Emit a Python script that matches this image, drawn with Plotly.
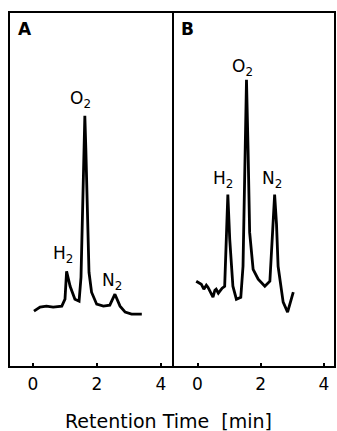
import plotly.graph_objects as go

# Panel A chromatogram (retention time in min, detector signal in arbitrary units)
time_a = [0.03, 0.22, 0.42, 0.63, 0.9, 1.0, 1.05, 1.1, 1.16, 1.31, 1.44, 1.5, 1.55, 1.6, 1.62,
          1.65, 1.7, 1.75, 1.83, 1.99, 2.2, 2.4, 2.56, 2.64, 2.72, 2.88, 3.08, 3.4]
signal_a = [56, 60, 61, 60, 61, 68, 96, 88, 81, 68, 66, 90, 150, 230, 252,
            220, 140, 95, 75, 63, 61, 62, 73, 66, 61, 55, 53, 53]

# Panel B chromatogram
time_b = [-0.04, 0.05, 0.12, 0.2, 0.28, 0.33, 0.42, 0.49, 0.55, 0.59, 0.66, 0.70, 0.78, 0.86,
          0.92, 0.96, 1.02, 1.12, 1.23, 1.37, 1.44, 1.50, 1.55, 1.60, 1.65, 1.76, 1.92, 2.13,
          2.29, 2.38, 2.44, 2.50, 2.55, 2.71, 2.85, 3.03]
signal_b = [86, 84, 83, 78, 82, 80, 74, 70, 77, 78, 74, 76, 79, 81,
            128, 173, 128, 81, 68, 70, 101, 198, 288, 218, 135, 98, 88, 81,
            86, 138, 173, 143, 101, 65, 55, 75]

tick_vals = [0, 2, 4]
tick_text = ["0", "2", "4"]
panel_labels = ["A", "B"]
peak_labels = ["H<sub>2</sub>", "O<sub>2</sub>", "N<sub>2</sub>"]
peak_time_a = [0.95, 1.47, 2.47]
peak_sig_a = [113, 268, 86]
peak_time_b = [0.8, 1.43, 2.35]
peak_sig_b = [188, 300, 188]

FONT = "DejaVu Sans"

fig = go.Figure()
fig.add_trace(go.Scatter(x=time_a, y=signal_a, mode="lines", xaxis="x", yaxis="y",
                         line=dict(color="black", width=2.8), showlegend=False))
fig.add_trace(go.Scatter(x=time_b, y=signal_b, mode="lines", xaxis="x2", yaxis="y2",
                         line=dict(color="black", width=2.8), showlegend=False))

ax_common = dict(showline=False, showgrid=False, zeroline=False, ticks="inside", ticklen=4,
                 tickwidth=2, tickcolor="black", tickvals=tick_vals, ticktext=tick_text,
                 ticklabelstandoff=5,
                 tickfont=dict(family=FONT, size=17, color="black"))
y_common = dict(showline=False, showgrid=False, zeroline=False, showticklabels=False, ticks="",
                range=[0, 356])

split = (173 - 9) / (335 - 9)
fig.update_layout(
    width=337, height=431,
    margin=dict(l=9, r=2, t=12, b=64),
    paper_bgcolor="white", plot_bgcolor="white",
    xaxis=dict(domain=[0, split], range=[-0.75, 4.375], anchor="y", **ax_common),
    xaxis2=dict(domain=[split, 1], range=[-0.775, 4.35], anchor="y2", **ax_common),
    yaxis=dict(domain=[0, 1], anchor="x", **y_common),
    yaxis2=dict(domain=[0, 1], anchor="x2", **y_common),
    shapes=[
        dict(type="rect", xref="paper", yref="paper", x0=0, x1=1, y0=0, y1=1,
             line=dict(color="black", width=2), fillcolor="rgba(0,0,0,0)"),
        dict(type="line", xref="paper", yref="paper", x0=split, x1=split, y0=0, y1=1,
             line=dict(color="black", width=2)),
    ],
)

ann = []
for i, (xr, yr) in enumerate([("x", "y"), ("x2", "y2")]):
    ann.append(dict(text="<b>" + panel_labels[i] + "</b>", xref=xr + " domain", yref=yr + " domain",
                    x=0.04, y=0.985, xanchor="left", yanchor="top", showarrow=False,
                    font=dict(family=FONT, size=17, color="black")))
for lbl, t, s in zip(peak_labels, peak_time_a, peak_sig_a):
    ann.append(dict(text=lbl, x=t, y=s, xref="x", yref="y", showarrow=False,
                    xanchor="center", yanchor="middle",
                    font=dict(family=FONT, size=17, color="black")))
for lbl, t, s in zip(peak_labels, peak_time_b, peak_sig_b):
    ann.append(dict(text=lbl, x=t, y=s, xref="x2", yref="y2", showarrow=False,
                    xanchor="center", yanchor="middle",
                    font=dict(family=FONT, size=17, color="black")))
ann.append(dict(text="Retention Time  [min]", xref="paper", yref="paper", x=0.49, y=-0.151,
                xanchor="center", yanchor="middle", showarrow=False,
                font=dict(family=FONT, size=19, color="black")))
fig.update_layout(annotations=ann)

fig.write_html("out.html", config={"displayModeBar": False},
               post_script="document.body.style.margin='0';document.body.style.padding='0';")
